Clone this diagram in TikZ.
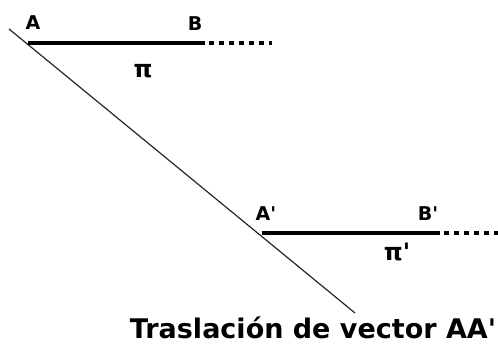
\documentclass[tikz,border=0pt]{standalone}
\usepackage{fontspec}
\setmainfont{DejaVu Sans}
\begin{document}
\begin{tikzpicture}[x=1pt,y=1pt,
  seg/.style={line width=3.5pt},
  dots/.style={line width=3.5pt,dash pattern=on 5pt off 5pt},
  lbl/.style={font=\bfseries\fontsize{19}{19}\selectfont,inner sep=0pt},
  pilbl/.style={font=\bfseries\fontsize{24}{24}\selectfont,inner sep=0pt}]
\useasboundingbox (0,0) rectangle (498,345);
\coordinate (P0) at (9,316);
\coordinate (P1) at (355,32);
\coordinate (A) at (28,302);
\coordinate (B) at (205,302);
\coordinate (Bd) at (272,302);
\coordinate (A2) at (262,112);
\coordinate (B2) at (440,112);
\coordinate (B2d) at (498,112);
\draw[line width=1.2pt,black!85] (P0) -- (P1);
\draw[seg] (A) -- (B);
\draw[dots] (B) ++(4,0) -- (Bd);
\draw[seg] (A2) -- (B2);
\draw[dots] (B2) ++(4,0) -- (B2d);
\node[lbl] (la) at (33,322) {A};
\node[lbl] (lb) at (195,321) {B};
\node[pilbl] (lpi) at (143,274) {π};
\node[lbl] (la2) at (266,131) {A\textquotesingle};
\node[lbl] (lb2) at (428,131) {B\textquotesingle};
\node[pilbl] (lpi2) at (397,93) {π\textquotesingle};
\node[font=\bfseries\fontsize{27}{27}\selectfont,inner sep=0pt] (title) at (313,17) {Traslación de vector AA\textquotesingle};
\end{tikzpicture}
\end{document}
